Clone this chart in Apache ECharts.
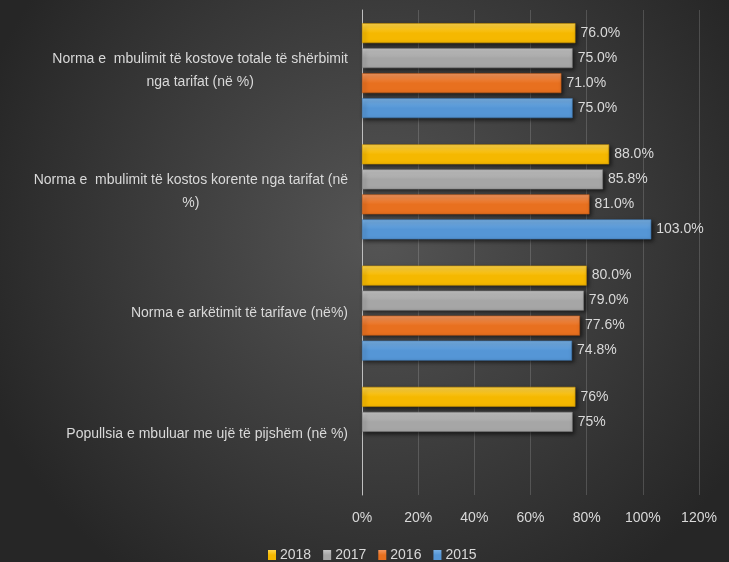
<!DOCTYPE html>
<html><head><meta charset="utf-8">
<script src="https://cdn.jsdelivr.net/npm/echarts@6/dist/echarts.min.js"></script>
<style>html,body{margin:0;padding:0;background:#333;}#c{width:729px;height:562px;}</style>
</head><body><div id="c"></div>
<script>
// categories bottom -> top
const categories = [
  "Popullsia e mbuluar me ujë të pijshëm (në %)",
  "Norma e arkëtimit të tarifave (në%)",
  "Norma e  mbulimit të kostos korente nga tarifat (në\n%)",
  "Norma e  mbulimit të kostove totale të shërbimit\nnga tarifat (në %)"
];
const years = ["2018", "2017", "2016", "2015"];
const v2015 = [null, 74.8, 103.0, 75.0];
const v2016 = [null, 77.6, 81.0, 71.0];
const v2017 = [75, 79.0, 85.8, 75.0];
const v2018 = [76, 80.0, 88.0, 76.0];
const xTicks = [0, 20, 40, 60, 80, 100, 120];

const grads = {
  "2018": ["#ffd54a", "#f5b800", "#c99400"],
  "2017": ["#c6c6c6", "#a6a6a6", "#808080"],
  "2016": ["#f4975f", "#e8701f", "#b85514"],
  "2015": ["#78b0e4", "#5596d6", "#3e75ad"]
};
const values = {"2015": v2015, "2016": v2016, "2017": v2017, "2018": v2018};
const FONT = "'Liberation Sans', Arial, sans-serif";

const series = years.map(y => ({
  name: y,
  type: 'bar',
  data: values[y],
  barWidth: 20,
  barGap: '25%',
  itemStyle: {
    color: new echarts.graphic.LinearGradient(0, 0, 0, 1, [
      {offset: 0, color: grads[y][0]},
      {offset: 0.5, color: grads[y][1]},
      {offset: 1, color: grads[y][1]}
    ]),
    borderColor: grads[y][2],
    borderWidth: 0.6,
    shadowColor: 'rgba(0,0,0,0.6)',
    shadowBlur: 4,
    shadowOffsetX: 2,
    shadowOffsetY: 2
  },
  label: {
    show: true,
    position: 'right',
    distance: 5,
    color: '#d9d9d9',
    fontFamily: FONT,
    fontSize: 14,
    formatter: p => p.value == null ? '' : (p.dataIndex === 0 ? p.value.toFixed(0) + '%' : p.value.toFixed(1) + '%')
  }
}));

const chart = echarts.init(document.getElementById('c'), null, {renderer: 'canvas'});
chart.setOption({
  backgroundColor: new echarts.graphic.RadialGradient(0.52, 0.42, 0.75, [
    {offset: 0, color: '#555555'},
    {offset: 1, color: '#262626'}
  ]),
  animation: false,
  textStyle: {fontFamily: FONT},
  legend: {
    data: ["2018", "2017", "2016", "2015"],
    left: 263,
    top: 543,
    itemWidth: 8,
    itemHeight: 10,
    itemGap: 12,
    icon: 'rect',
    itemStyle: {borderWidth: 0, shadowBlur: 0, shadowOffsetX: 0, shadowOffsetY: 0},
    textStyle: {color: '#d9d9d9', fontSize: 14, fontFamily: FONT, padding: [0, 0, 0, -1]}
  },
  grid: {left: 362, right: 30, top: 10, bottom: 67, containLabel: false},
  xAxis: {
    type: 'value',
    min: xTicks[0],
    max: xTicks[xTicks.length - 1],
    interval: 20,
    axisLine: {show: false},
    axisTick: {show: false},
    splitLine: {lineStyle: {color: 'rgba(200,200,200,0.22)', width: 1}},
    axisLabel: {color: '#d9d9d9', fontSize: 14, fontFamily: FONT, margin: 16, formatter: '{value}%'}
  },
  yAxis: {
    type: 'category',
    data: categories,
    axisLine: {show: true, lineStyle: {color: '#bfbfbf', width: 1}},
    axisTick: {show: false},
    axisLabel: {
      color: '#d9d9d9',
      fontSize: 14,
      fontFamily: FONT,
      margin: 14,
      lineHeight: 23,
      formatter: v => v.split('\n').map(s => '{c|' + s + '}').join('\n'),
      rich: {c: {align: 'center', color: '#d9d9d9', fontSize: 14, fontFamily: FONT, lineHeight: 23}}
    }
  },
  series: series
});
</script>
</body></html>
